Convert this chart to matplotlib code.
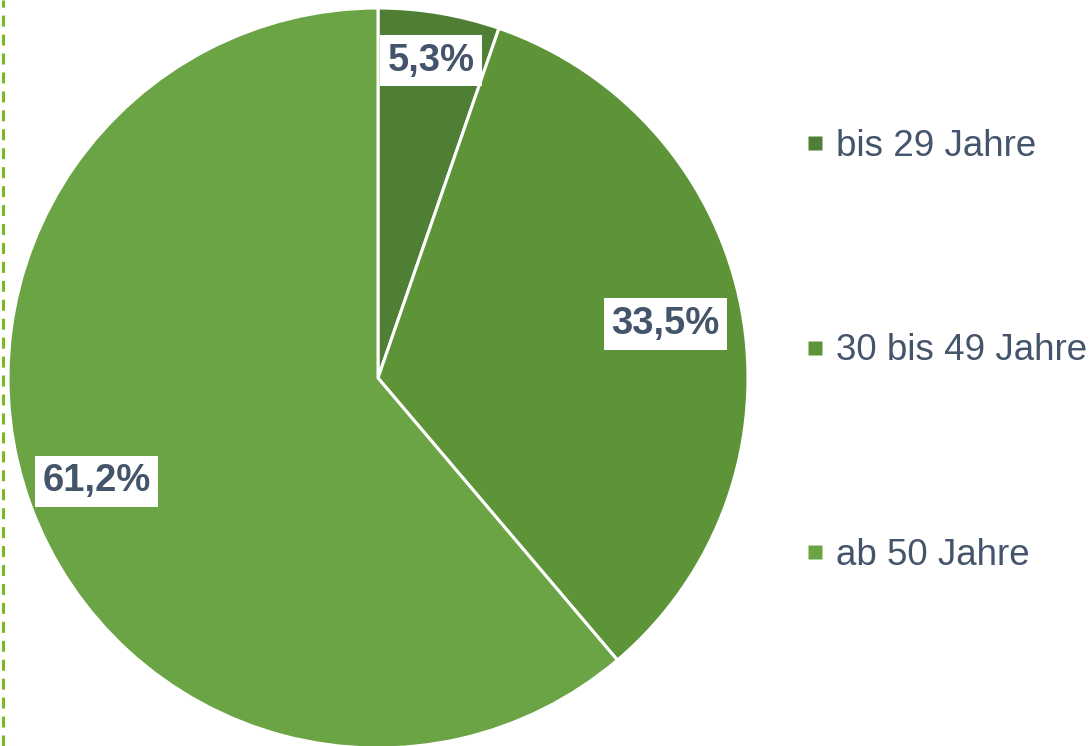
import numpy as np
import matplotlib.pyplot as plt
from matplotlib.lines import Line2D

plt.rcParams['font.family'] = ['Liberation Sans', 'DejaVu Sans']

categories = ['bis 29 Jahre', '30 bis 49 Jahre', 'ab 50 Jahre']
values = [5.3, 33.5, 61.2]
labels = ['5,3%', '33,5%', '61,2%']
colors = ['#4f7f34', '#5e9438', '#6aa444']
label_dist = [0.87, 0.79, 0.81]
text_color = '#44546a'

W, H = 1092, 746
fig = plt.figure(figsize=(W / 100, H / 100), dpi=100)

# pie: center (378, 378) px, radius 370 px
cx, cy, r = 378, 378, 370
ax = fig.add_axes([(cx - r) / W, (H - cy - r) / H, 2 * r / W, 2 * r / H])
wedges, _ = ax.pie(values, colors=colors, startangle=90, counterclock=False,
                   radius=1, wedgeprops=dict(edgecolor='white', linewidth=2.2))
ax.set_xlim(-1, 1)
ax.set_ylim(-1, 1)
ax.set_aspect('equal')
ax.axis('off')

for w, lab, d in zip(wedges, labels, label_dist):
    ang = np.deg2rad((w.theta1 + w.theta2) / 2)
    ax.text(d * np.cos(ang), d * np.sin(ang), lab, ha='center', va='center',
            fontsize=27.5, fontweight='bold', color=text_color,
            bbox=dict(facecolor='white', edgecolor='none', pad=5.5))

# legend
handles = [Line2D([], [], marker='s', linestyle='none', markersize=10.5,
                  markerfacecolor=c, markeredgecolor='none') for c in colors]
leg = fig.legend(handles, categories, loc='center left',
                 bbox_to_anchor=(805 / W, (H - 351) / H), frameon=False,
                 fontsize=26.5, labelspacing=4.6, handlelength=0.55,
                 handletextpad=0.3, borderpad=0, borderaxespad=0)
for t in leg.get_texts():
    t.set_color(text_color)

# dashed line on the left
fig.add_artist(Line2D([2.5 / W, 2.5 / W], [0, 1], transform=fig.transFigure,
                      color='#7cb91f', linewidth=2.2,
                      linestyle=(0, (3.6, 2.6))))

fig.savefig('out.png', dpi=100)
